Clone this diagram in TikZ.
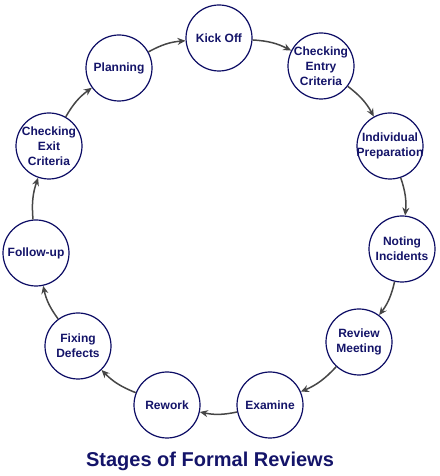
\documentclass[tikz,border=0pt]{standalone}
\usepackage{fontspec}
\setmainfont{Liberation Sans}
\usetikzlibrary{arrows.meta}
\definecolor{navy}{RGB}{12,12,100}
\definecolor{ink}{RGB}{20,20,105}
\definecolor{arrowgray}{RGB}{70,70,70}
\tikzset{
  >={Stealth[length=8pt,width=7pt]},
  stage/.style={circle,draw=navy,line width=1.2pt,fill=white,minimum size=66pt,
    inner sep=-4pt,align=center,text=ink,
    font=\fontsize{12}{15}\selectfont\bfseries},
  flow/.style={->,line width=1.5pt,draw=arrowgray,bend left=12},
  title/.style={text=ink,font=\fontsize{20}{24}\selectfont\bfseries},
}
\begin{document}
\begin{tikzpicture}[x=1pt,y=1pt]
  \useasboundingbox (0,0) rectangle (439,476);
  % stages, clockwise from the top
  \node[stage] (kick) at (219,438) {Kick Off};
  \node[stage] (entry) at (321,410) {Checking\\Entry\\Criteria};
  \node[stage] (prep) at (390,330) {Individual\\Preparation};
  \node[stage] (note) at (402,227) {Noting\\Incidents};
  \node[stage] (meet) at (359,134) {Review\\Meeting};
  \node[stage] (exam) at (270,71) {Examine};
  \node[stage] (rework) at (167,71) {Rework};
  \node[stage] (fix) at (78,130) {Fixing\\Defects};
  \node[stage] (follow) at (36,223) {Follow-up};
  \node[stage] (exit) at (49,330) {Checking\\Exit\\Criteria};
  \node[stage] (plan) at (119,408) {Planning};
  % connectors
  \draw[flow] (kick) to (entry);
  \draw[flow] (entry) to (prep);
  \draw[flow] (prep) to (note);
  \draw[flow] (note) to (meet);
  \draw[flow] (meet) to (exam);
  \draw[flow] (exam) to (rework);
  \draw[flow] (rework) to (fix);
  \draw[flow] (fix) to (follow);
  \draw[flow] (follow) to (exit);
  \draw[flow] (exit) to (plan);
  \draw[flow] (plan) to (kick);
  \node[title] (caption) at (210,15) {Stages of Formal Reviews};
\end{tikzpicture}
\end{document}
